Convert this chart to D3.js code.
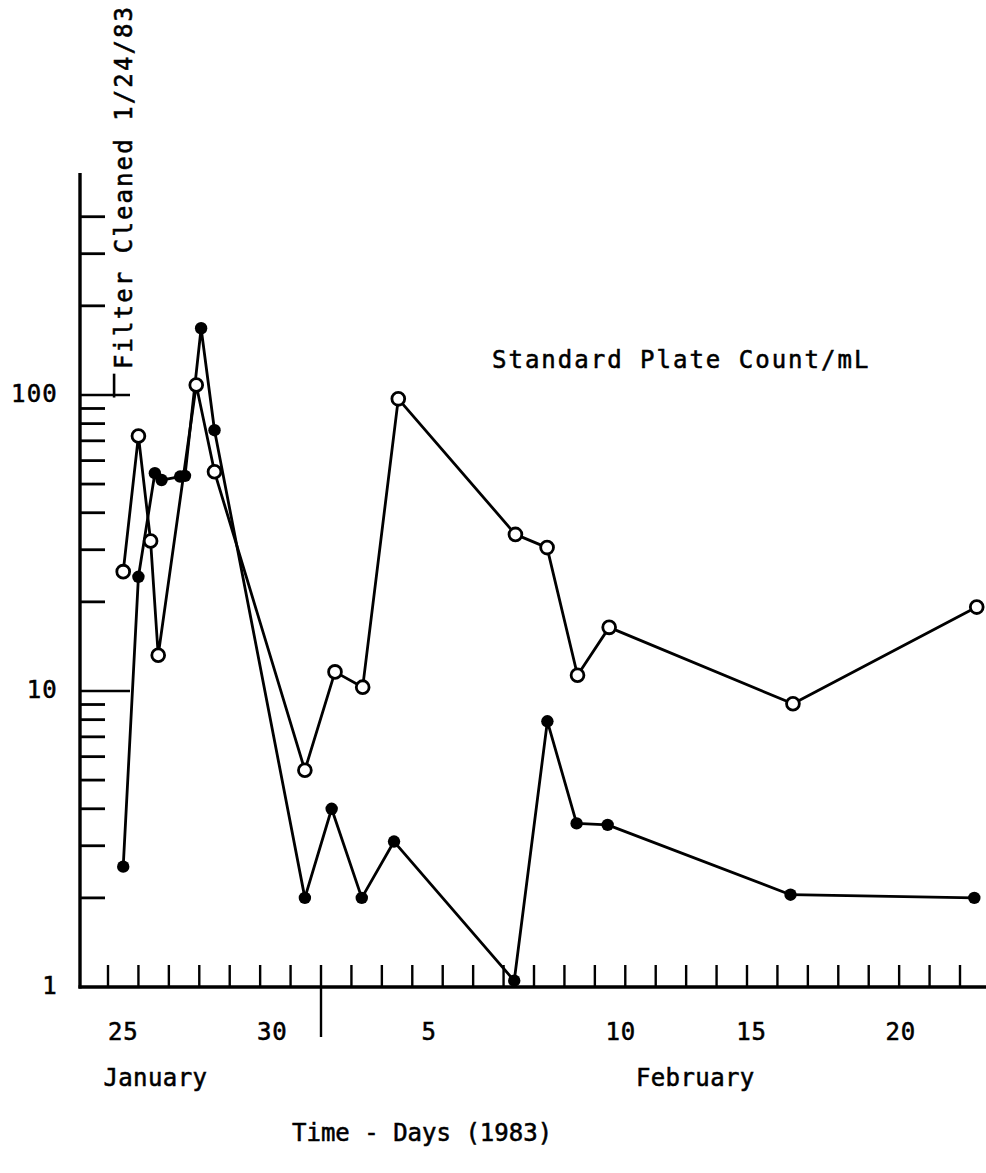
<!DOCTYPE html>
<html>
<head>
<meta charset="utf-8">
<script src="https://cdn.jsdelivr.net/npm/d3@7"></script>
<style>
  html, body { margin: 0; padding: 0; background: #fff; }
  svg { display: block; }
  text { font-family: "DejaVu Sans Mono", "Liberation Mono", monospace; fill: #000; stroke: #000; stroke-width: 0.55px; }
</style>
</head>
<body>
<svg id="chart" width="986" height="1173"></svg>
<script>
// ---- data (day numbers counted from Jan 1; Feb 1 = 32) ----
const openDays   = [25.0, 25.5, 25.9, 26.15, 27.4, 28.0, 30.97, 31.96, 32.87, 34.04, 37.89, 38.93, 39.93, 40.97, 47.01, 53.05];
const openVals   = [25.3, 72.7, 32.1, 13.2, 108, 55, 5.4, 11.6, 10.3, 97, 33.8, 30.5, 11.3, 16.4, 9.05, 19.2];
const filledDays = [25.0, 25.5, 26.04, 26.26, 26.87, 27.03, 27.56, 28.0, 30.97, 31.85, 32.84, 33.9, 37.85, 38.94, 39.9, 40.92, 46.93, 52.97];
const filledVals = [2.55, 24.3, 54.4, 51.6, 53, 53.3, 168, 76, 2.0, 4.0, 2.0, 3.1, 1.05, 7.9, 3.57, 3.53, 2.05, 2.0];

const yMajorTicks = [10, 100];
const yMinorTicks = [2,3,4,5,6,7,8,9,20,30,40,50,60,70,80,90,200,300,400];
const yTickLabels = ["1", "10", "100"];
const yTickLabelVals = [1, 10, 100];

const xTickLabels = ["25", "30", "5", "10", "15", "20"];
const xTickLabelPos = [25.0, 29.9, 35.05, 41.35, 45.65, 50.55];
const monthBoundary = 31.5;
const monthLabels = ["January", "February"];
const monthLabelPos = [24.35, 41.85];
const filterCleanedDay = 24.7;

// ---- layout ----
const svg = d3.select("#chart");
const axisX = 80, axisY = 987, axisTop = 173, axisRight = 986;

const x = d3.scaleLinear().domain([24.5, 52.5]).range([108, 960]);
const y = d3.scaleLog().domain([1, 562]).range([axisY, axisTop]);

// axes lines
svg.append("line").attr("x1", axisX).attr("x2", axisX).attr("y1", axisTop).attr("y2", axisY + 1.5)
  .attr("stroke", "#000").attr("stroke-width", 3.4);
svg.append("line").attr("x1", axisX - 1.5).attr("x2", axisRight).attr("y1", axisY).attr("y2", axisY)
  .attr("stroke", "#000").attr("stroke-width", 3.4);

// y ticks
svg.selectAll(".ymaj").data(yMajorTicks).enter().append("line")
  .attr("x1", axisX).attr("x2", axisX + 50)
  .attr("y1", d => y(d)).attr("y2", d => y(d))
  .attr("stroke", "#000").attr("stroke-width", 2.6);
svg.selectAll(".ymin").data(yMinorTicks).enter().append("line")
  .attr("x1", axisX).attr("x2", axisX + 25)
  .attr("y1", d => y(d)).attr("y2", d => y(d))
  .attr("stroke", "#000").attr("stroke-width", 2.8);
svg.selectAll(".ylab").data(yTickLabelVals).enter().append("text")
  .attr("x", 58).attr("y", d => y(d) + 7)
  .attr("text-anchor", "end").attr("font-size", 24).attr("letter-spacing", 1.2)
  .text((d, i) => yTickLabels[i]);

// x ticks (day boundaries)
const dayBounds = d3.range(24.5, 52.6, 1);
svg.selectAll(".xt").data(dayBounds).enter().append("line")
  .attr("x1", d => x(d)).attr("x2", d => x(d))
  .attr("y1", axisY - 22)
  .attr("y2", d => Math.abs(d - monthBoundary) < 0.01 ? axisY + 50 : axisY)
  .attr("stroke", "#000").attr("stroke-width", 2.4);

svg.selectAll(".xlab").data(xTickLabelPos).enter().append("text")
  .attr("x", d => x(d)).attr("y", 1040)
  .attr("text-anchor", "middle").attr("font-size", 24).attr("letter-spacing", 0.8)
  .text((d, i) => xTickLabels[i]);

svg.selectAll(".mlab").data(monthLabelPos).enter().append("text")
  .attr("x", d => x(d)).attr("y", 1086)
  .attr("font-size", 24).attr("letter-spacing", 0.4)
  .text((d, i) => monthLabels[i]);

svg.append("text").attr("x", 292).attr("y", 1141)
  .attr("font-size", 24).attr("letter-spacing", 0)
  .text("Time - Days (1983)");

svg.append("text").attr("x", 492).attr("y", 368)
  .attr("font-size", 24).attr("letter-spacing", 2.0)
  .text("Standard Plate Count/mL");

// filter cleaned annotation
svg.append("text")
  .attr("transform", "translate(132,369) rotate(-90)")
  .attr("font-size", 24).attr("letter-spacing", 2.1)
  .text("Filter Cleaned 1/24/83");
svg.append("line")
  .attr("x1", x(filterCleanedDay)).attr("x2", x(filterCleanedDay))
  .attr("y1", y(118)).attr("y2", y(98))
  .attr("stroke", "#000").attr("stroke-width", 2.6);

// series
const openData = openDays.map((d, i) => ({d, v: openVals[i]}));
const filledData = filledDays.map((d, i) => ({d, v: filledVals[i]}));
const line = d3.line().x(p => x(p.d)).y(p => y(p.v));

svg.append("path").datum(filledData).attr("d", line)
  .attr("fill", "none").attr("stroke", "#000").attr("stroke-width", 2.8).attr("stroke-linejoin", "round");
svg.append("path").datum(openData).attr("d", line)
  .attr("fill", "none").attr("stroke", "#000").attr("stroke-width", 2.8).attr("stroke-linejoin", "round");

svg.selectAll(".fdot").data(filledData).enter().append("circle")
  .attr("cx", p => x(p.d)).attr("cy", p => y(p.v)).attr("r", 6.2)
  .attr("fill", "#000");
svg.selectAll(".odot").data(openData).enter().append("circle")
  .attr("cx", p => x(p.d)).attr("cy", p => y(p.v)).attr("r", 6.4)
  .attr("fill", "#fff").attr("stroke", "#000").attr("stroke-width", 2.8);
</script>
</body>
</html>
